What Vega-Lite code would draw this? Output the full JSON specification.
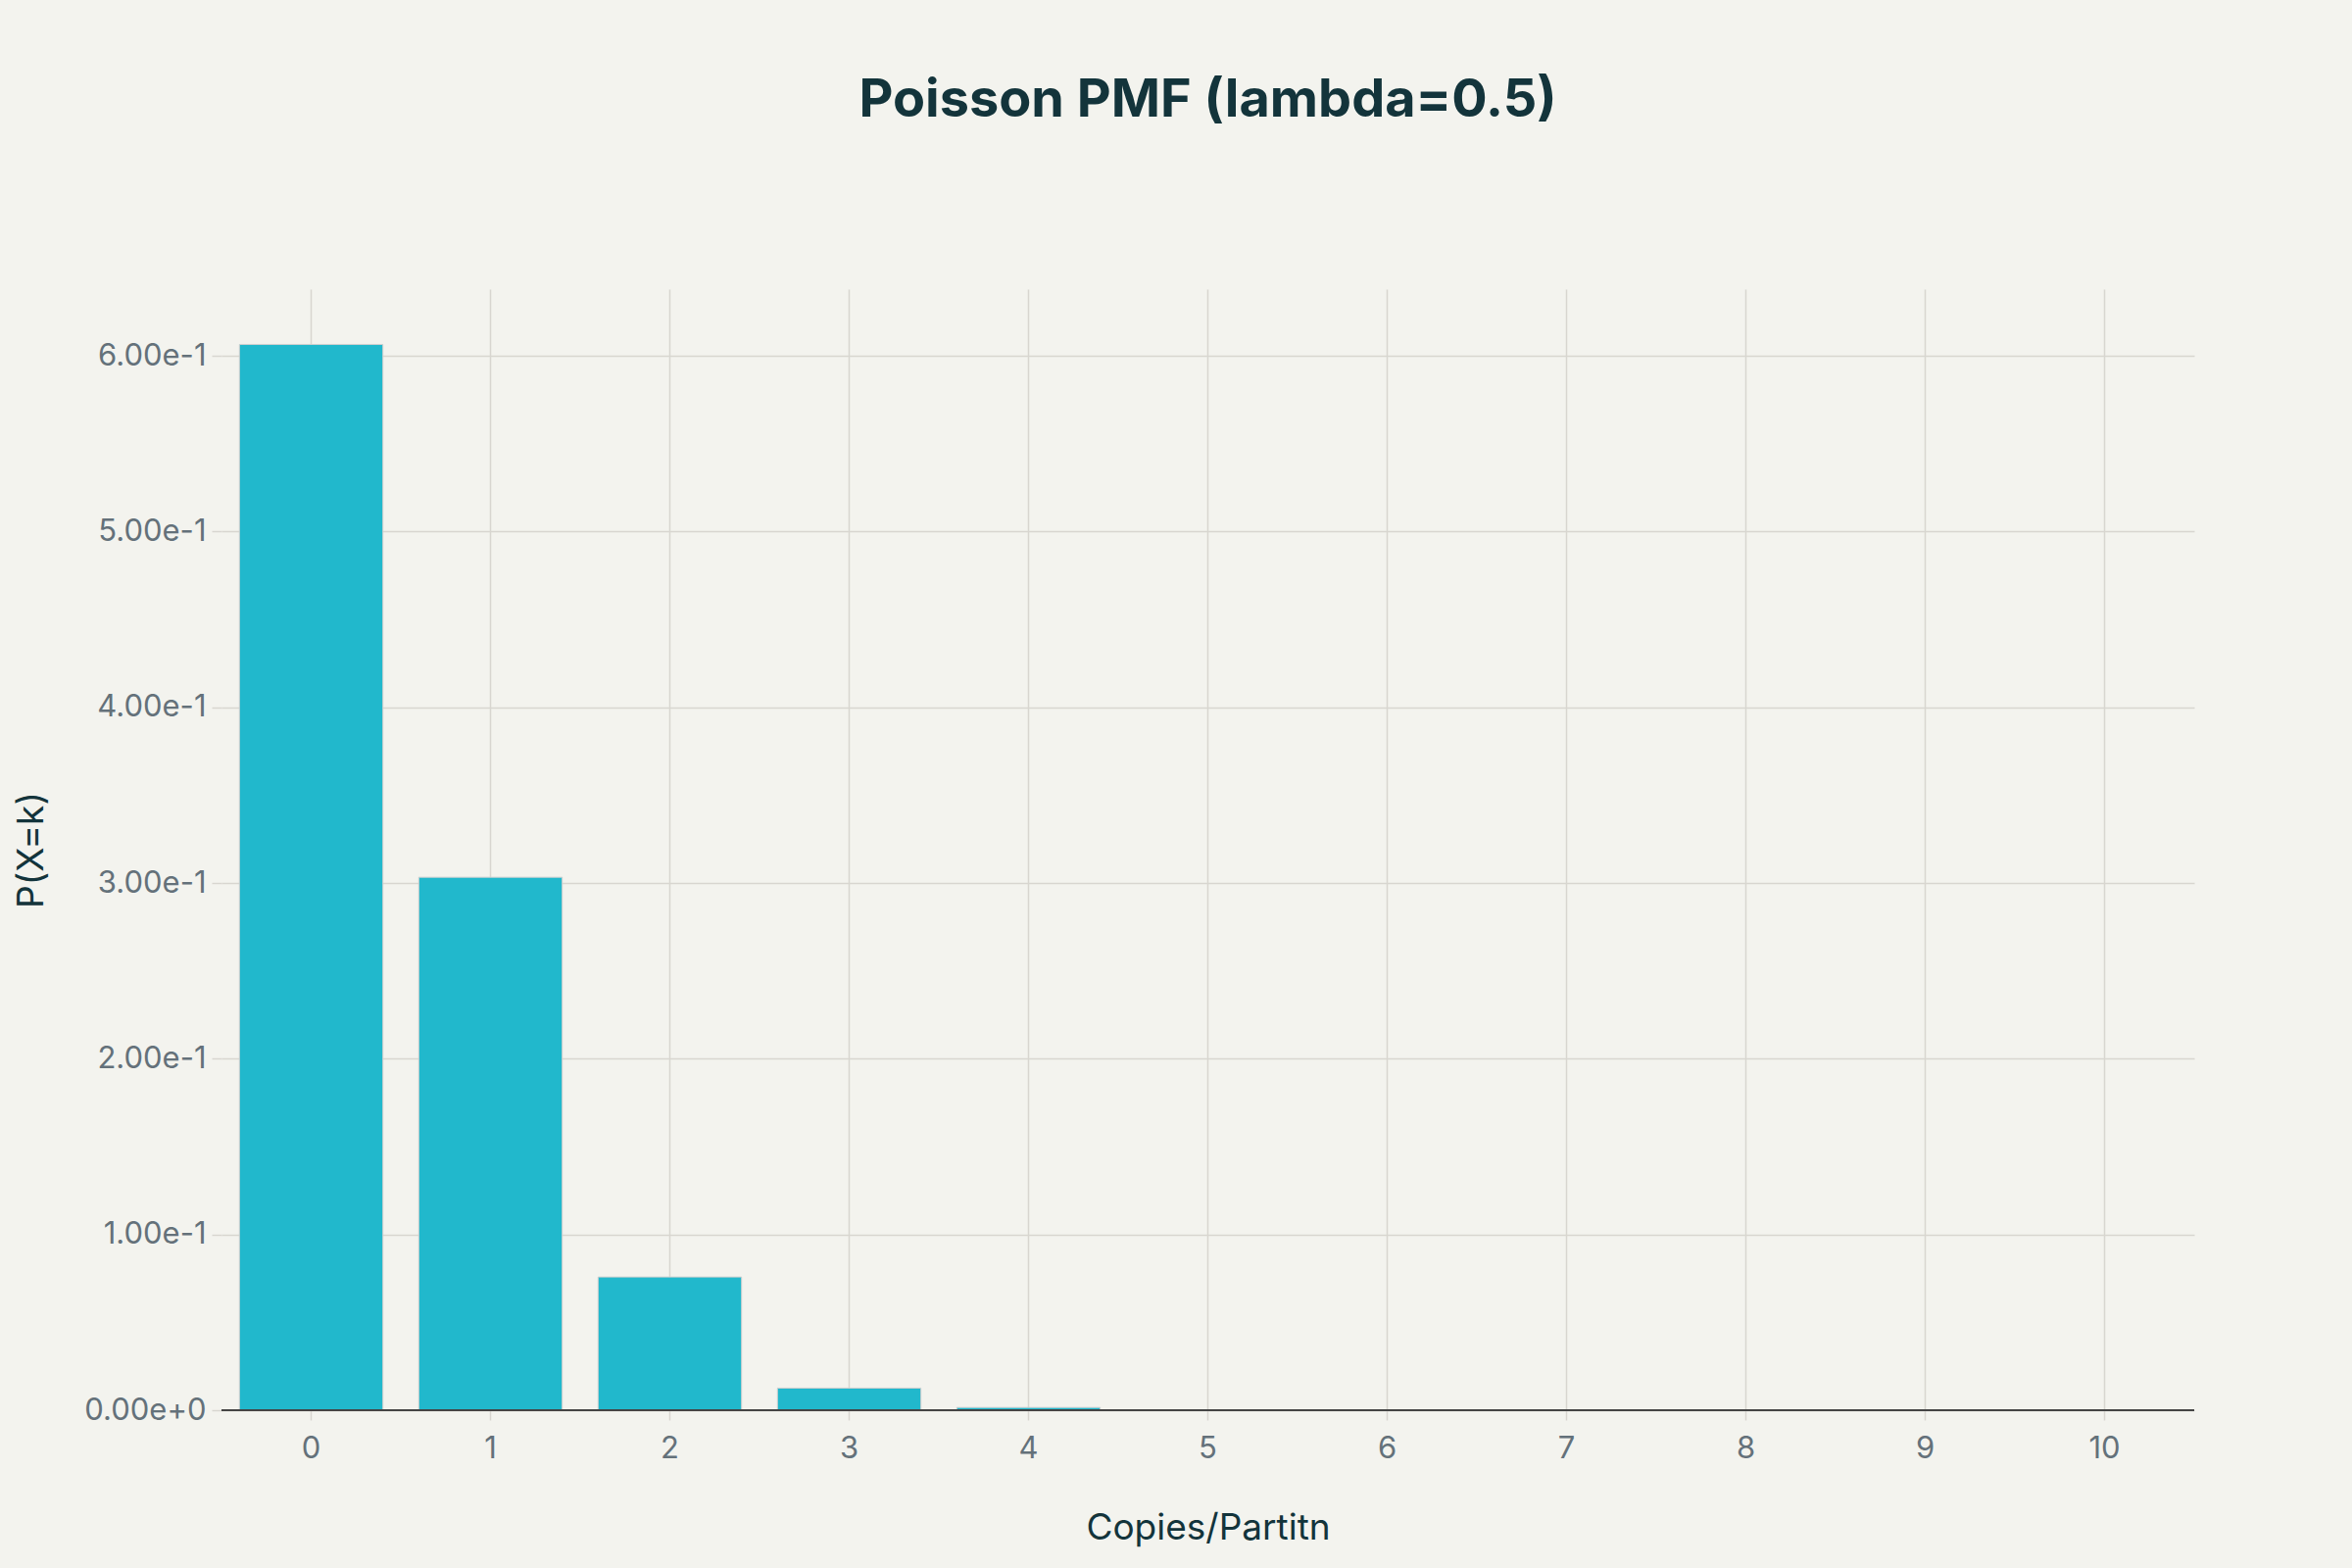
{
  "$schema": "https://vega.github.io/schema/vega-lite/v6.json",
  "autosize": {"type": "none"},
  "padding": {"left": 226, "top": 295, "right": 161, "bottom": 161},
  "width": 2013,
  "height": 1144,
  "background": "#f3f3ee",
  "title": {
    "text": "Poisson PMF (lambda=0.5)",
    "font": "Inter",
    "fontSize": 54,
    "fontWeight": "bold",
    "color": "#13343b",
    "anchor": "middle",
    "frame": "group",
    "offset": 165
  },
  "data": {
    "values": [
      {"k": 0, "p": 0.6065},
      {"k": 1, "p": 0.3033},
      {"k": 2, "p": 0.0758},
      {"k": 3, "p": 0.0126},
      {"k": 4, "p": 0.00158},
      {"k": 5, "p": 0.000158},
      {"k": 6, "p": 0.0000132},
      {"k": 7, "p": 0.00000094},
      {"k": 8, "p": 0.000000059},
      {"k": 9, "p": 0.0000000033},
      {"k": 10, "p": 0.00000000016}
    ]
  },
  "layer": [
    {
      "mark": {"type": "bar", "color": "#21b8cc", "stroke": "#cfcfcf", "strokeWidth": 1},
      "encoding": {
        "x": {
          "field": "k",
          "type": "ordinal",
          "scale": {"paddingInner": 0.2, "paddingOuter": 0.1},
          "axis": {
            "title": "Copies/Partitn",
            "labelAngle": 0,
            "bandPosition": 0.5,
            "grid": true,
            "gridColor": "#d8d6d0",
            "gridWidth": 1.5,
            "domain": false,
            "tickColor": "#d8d6d0",
            "tickSize": 10,
            "tickWidth": 1.5,
            "labelFont": "Inter",
            "labelFontSize": 31,
            "labelColor": "#64717a",
            "labelPadding": 14,
            "titleFont": "Inter",
            "titleFontSize": 37,
            "titleFontWeight": "normal",
            "titleColor": "#13343b",
            "titlePadding": 48
          }
        },
        "y": {
          "field": "p",
          "type": "quantitative",
          "scale": {"domain": [0, 0.638], "nice": false},
          "axis": {
            "title": "P(X=k)",
            "values": [0, 0.1, 0.2, 0.3, 0.4, 0.5, 0.6],
            "format": ".2e",
            "grid": true,
            "gridColor": "#d8d6d0",
            "gridWidth": 1.5,
            "domain": false,
            "tickColor": "#d8d6d0",
            "tickSize": 10,
            "tickWidth": 1.5,
            "labelFont": "Inter",
            "labelFontSize": 31,
            "labelColor": "#64717a",
            "labelPadding": 6,
            "titleFont": "Inter",
            "titleFontSize": 37,
            "titleFontWeight": "normal",
            "titleColor": "#13343b",
            "titlePadding": 34
          }
        }
      }
    },
    {
      "mark": {"type": "rule", "color": "#444444", "strokeWidth": 2},
      "encoding": {"y": {"datum": 0}}
    }
  ],
  "config": {"view": {"stroke": null}}
}
